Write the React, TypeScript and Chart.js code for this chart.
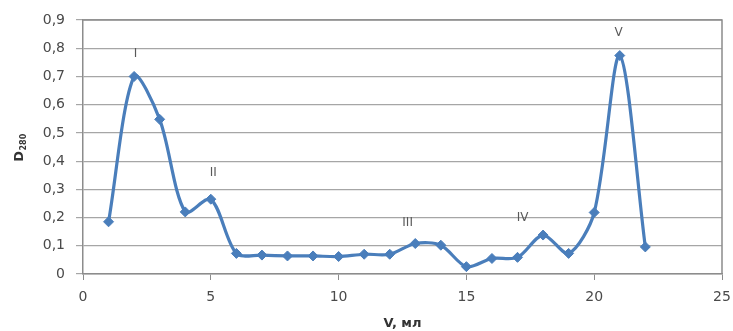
import React, { useEffect, useRef } from "react";
import { Chart, registerables } from "chart.js";

Chart.register(...registerables);

const volumes = [1, 2, 3, 4, 5, 6, 7, 8, 9, 10, 11, 12, 13, 14, 15, 16, 17, 18, 19, 20, 21, 22];
const absorbance = [0.185, 0.70, 0.548, 0.22, 0.265, 0.073, 0.067, 0.064, 0.064, 0.062, 0.07, 0.07, 0.108, 0.102, 0.026, 0.055, 0.059, 0.138, 0.073, 0.218, 0.774, 0.096];

const peakNames = ["I", "II", "III", "IV", "V"];
const peakX = [2.05, 5.1, 12.7, 17.2, 20.95];
const peakY = [0.78, 0.357, 0.18, 0.198, 0.855];

const xTickLabels = ["0", "5", "10", "15", "20", "25"];
const yTickLabels = ["0", "0,1", "0,2", "0,3", "0,4", "0,5", "0,6", "0,7", "0,8", "0,9"];

const xTitle = "V, мл";
const yTitleMain = "D";
const yTitleSub = "280";

const FONT = "'DejaVu Sans', sans-serif";
const BLUE = "#4a7ebb";

export default function App() {
  const ref = useRef<HTMLCanvasElement | null>(null);

  useEffect(() => {
    if (!ref.current) return;

    const decorPlugin = {
      id: "decor",
      afterDraw(chart: any) {
        const { ctx, chartArea, scales } = chart;
        ctx.save();
        ctx.strokeStyle = "#8c8c8c";
        ctx.lineWidth = 1.5;
        ctx.beginPath();
        ctx.moveTo(chartArea.left, chartArea.top);
        ctx.lineTo(chartArea.right, chartArea.top);
        ctx.lineTo(chartArea.right, chartArea.bottom);
        ctx.stroke();
        ctx.fillStyle = "#595959";
        ctx.font = `12px ${FONT}`;
        ctx.textAlign = "center";
        ctx.textBaseline = "middle";
        peakNames.forEach((n, i) => {
          ctx.fillText(n, scales.x.getPixelForValue(peakX[i]), scales.y.getPixelForValue(peakY[i]));
        });
        ctx.translate(19, 148);
        ctx.rotate(-Math.PI / 2);
        ctx.fillStyle = "#333333";
        ctx.textAlign = "left";
        ctx.textBaseline = "alphabetic";
        ctx.font = `bold 13px ${FONT}`;
        const wMain = ctx.measureText(yTitleMain).width;
        ctx.font = `bold 8px ${FONT}`;
        const wSub = ctx.measureText(yTitleSub).width;
        const start = -(wMain + wSub) / 2;
        ctx.font = `bold 13px ${FONT}`;
        ctx.fillText(yTitleMain, start, 4);
        ctx.font = `bold 8px ${FONT}`;
        ctx.fillText(yTitleSub, start + wMain + 0.5, 7);
        ctx.restore();
      },
    };

    const chart = new Chart(ref.current, {
      type: "line",
      data: {
        datasets: [
          {
            data: volumes.map((v, i) => ({ x: v, y: absorbance[i] })),
            borderColor: BLUE,
            backgroundColor: BLUE,
            borderWidth: 3.2,
            tension: 0.3,
            pointStyle: "rectRot",
            pointRadius: 5,
            pointBorderWidth: 1,
            pointBackgroundColor: BLUE,
            pointBorderColor: BLUE,
          },
        ],
      },
      options: {
        animation: false,
        responsive: false,
        layout: { padding: { top: 20, right: 11, left: 0, bottom: 0 } },
        plugins: {
          legend: { display: false },
          tooltip: { enabled: false },
        },
        scales: {
          x: {
            type: "linear",
            min: 0,
            max: 25,
            afterFit: (s: any) => {
              s.height = 57;
              s.paddingRight = 0;
            },
            ticks: {
              stepSize: 5,
              color: "#4a4a4a",
              font: { family: FONT, size: 14 },
              padding: 9,
              callback: (_v: any, i: number) => xTickLabels[i],
              maxRotation: 0,
            },
            grid: {
              drawOnChartArea: false,
              drawTicks: true,
              tickLength: 6,
              color: "#8c8c8c",
            },
            border: { color: "#8c8c8c", width: 1.5 },
            title: {
              display: true,
              text: xTitle,
              color: "#333333",
              font: { family: FONT, size: 13, weight: "bold" },
              padding: { top: 0, bottom: 0 },
            },
          },
          y: {
            min: 0,
            max: 0.9,
            afterFit: (s: any) => {
              s.width = 83;
            },
            ticks: {
              stepSize: 0.1,
              color: "#4a4a4a",
              font: { family: FONT, size: 14 },
              padding: 11,
              callback: (_v: any, i: number) => yTickLabels[i],
            },
            grid: {
              color: "#a6a6a6",
              lineWidth: 1.2,
              tickLength: 7,
            },
            border: { color: "#8c8c8c", width: 1.5 },
          },
        },
      },
      plugins: [decorPlugin],
    } as any);

    return () => chart.destroy();
  }, []);

  return (
    <div style={{ position: "absolute", left: 0, top: 0, width: 733, height: 331, background: "#fff" }}>
      <canvas ref={ref} width={733} height={331} style={{ width: 733, height: 331, display: "block" }} />
    </div>
  );
}
